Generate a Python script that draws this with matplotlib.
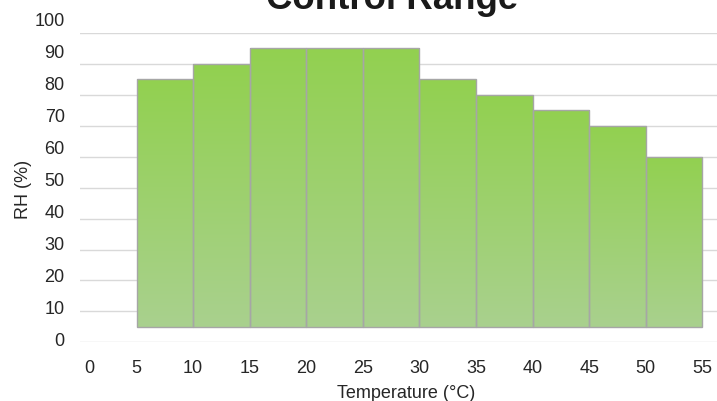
import numpy as np
import matplotlib
matplotlib.use("Agg")
import matplotlib.pyplot as plt
import matplotlib.transforms as mtransforms
from matplotlib.colors import LinearSegmentedColormap

plt.rcParams['font.family'] = ['Liberation Sans', 'DejaVu Sans']

# data
temp_start = [5, 10, 15, 20, 25, 30, 35, 40, 45, 50]
rh_high = [85, 90, 95, 95, 95, 85, 80, 75, 70, 60]
rh_low = 5
bin_width = 5
x_ticks = [0, 5, 10, 15, 20, 25, 30, 35, 40, 45, 50, 55]
y_ticks = [0, 10, 20, 30, 40, 50, 60, 70, 80, 90, 100]

fig = plt.figure(figsize=(7.17, 4.02), dpi=100)
ax = fig.add_axes([0.1116, 0.146, 0.8884, 0.7694])
# the y tick labels in the original sit on a slightly stretched scale
ax_lbl = fig.add_axes([0.1116, 0.1567, 0.8884, 0.7948], frameon=False)

cmap = LinearSegmentedColormap.from_list('grn', ['#a9d18e', '#92d050'])
grad = np.linspace(0, 1, 256).reshape(-1, 1)

bars = ax.bar(temp_start, [h - rh_low for h in rh_high], width=bin_width,
              bottom=rh_low, align='edge', facecolor='none',
              edgecolor='#a6a6a6', linewidth=1.0, zorder=3)
for b in bars:
    x0, y0 = b.get_x(), b.get_y()
    img = ax.imshow(grad, cmap=cmap, origin='lower', aspect='auto',
                    extent=(x0, x0 + b.get_width(), y0, y0 + b.get_height()),
                    zorder=2)
    img.set_clip_path(b)

ax.set_xlim(0, 56.3)
ax.set_ylim(0, 100)
ax.set_xticks(x_ticks)
ax.set_yticks(y_ticks)
ax.tick_params(length=0, labelsize=13, colors='#262626', pad=12)
ax.tick_params(axis='y', labelleft=False)
ax.grid(axis='y', color='#d9d9d9', linewidth=1.0, zorder=0)
ax.set_axisbelow(True)
for s in ax.spines.values():
    s.set_visible(False)

ax_lbl.set_ylim(0, 100)
ax_lbl.set_yticks(y_ticks)
ax_lbl.set_xticks([])
ax_lbl.patch.set_visible(False)
ax_lbl.tick_params(length=0, labelsize=13, colors='#262626', pad=11)

# the "0" label sits a bit right of its tick in the original
lbl0 = ax.get_xticklabels()[0]
lbl0.set_transform(lbl0.get_transform() +
                   mtransforms.ScaledTranslation(9.5 / 100, 0, fig.dpi_scale_trans))

ax.set_xlabel('Temperature (°C)', fontsize=13, color='#262626', labelpad=6)
ax.xaxis.label.set_x(0.512)
ax.set_ylabel('RH (%)', fontsize=13, color='#262626')
ax.yaxis.set_label_coords(-0.0754, 0.496)
fig.text(0.547, 0.977, 'Control Range', fontsize=26.4, fontweight='bold',
         color='#1a1a1a', ha='center', va='baseline')

fig.savefig('out.png', dpi=100)
